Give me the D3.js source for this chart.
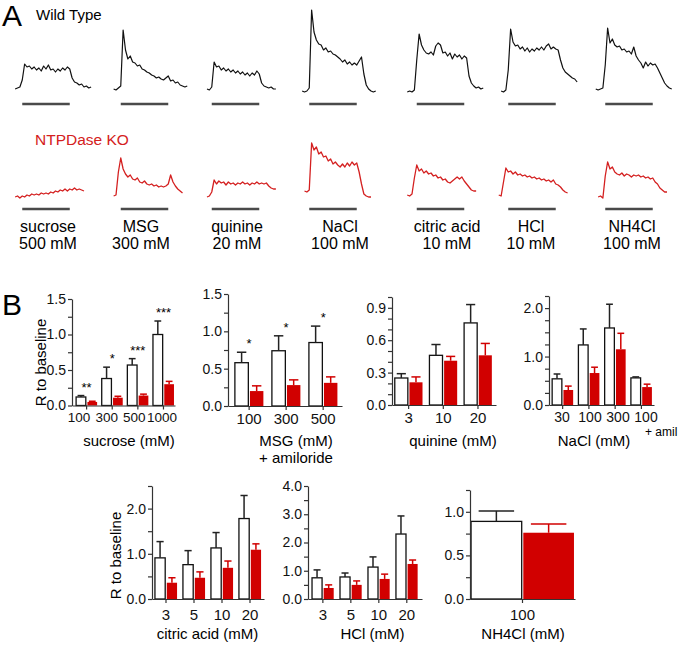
<!DOCTYPE html>
<html><head><meta charset="utf-8">
<script src="https://cdn.jsdelivr.net/npm/d3@7"></script>
<style>body{margin:0;background:#fff} text{font-family:"Liberation Sans",Arial,sans-serif}</style>
</head><body>
<script>
// ---------------- DATA: Panel A (traces, response above baseline; 1 sample per second; stimulus 0-20 s)
const stimuli = ["sucrose","MSG","quinine","NaCl","citric acid","HCl","NH4Cl"];
const stimConc = ["500 mM","300 mM","20 mM","100 mM","10 mM","10 mM","100 mM"];
const stimDuration = [0, 20];

const wtTraceStart = [-3,-3,-2,-3,-4,-3,-4];
const wtSucrose = [1,2,3,10,26,23,24,21,23,20,22,19,24,21,25,20,21,18,21,19,22,20,23,21,12,8,7,5,6,3,4,2,3];
const wtMSG = [1,0,2,4,60,40,31,34,28,27,24,25,21,20,18,17,15,14,12,13,11,10,12,14,9,10,7,8,5,4,3,4];
const wtQuinine = [1,0,3,28,23,24,20,22,19,21,18,20,17,19,16,18,15,17,14,17,15,19,16,7,4,3,2,3,1,1];
const wtNaCl = [-1,-2,-1,2,80,58,50,46,45,40,42,38,39,36,35,33,31,28,30,26,28,25,27,25,29,33,16,5,1,-1,-2,-1];
const wtCitric = [-2,-1,-2,0,30,56,45,40,37,36,38,35,44,47,45,37,38,34,37,31,36,33,35,31,34,32,14,7,4,2,3,1,2];
const wtHCl = [-1,-2,0,20,61,48,44,45,41,43,39,42,38,41,39,42,40,43,40,44,46,41,43,41,40,30,22,18,16,14,12,11,8];
const wtNH4Cl = [1,0,1,2,25,62,47,51,45,43,44,40,41,38,39,36,43,34,30,27,22,28,24,27,25,26,22,17,12,7,4,2,1];

const koTraceStart = [-3,-3,-2,-2,-4,-4,-3];
const koSucrose = [-1,0,-2,0,-1,1,0,2,1,2,1,3,2,3,2,4,3,5,4,6,5,7,5,7,6,8,6,7,6,5];
const koMSG = [0,1,24,38,27,22,19,21,17,16,18,14,13,15,12,11,12,10,11,9,10,9,10,12,21,14,10,7,5,3];
const koQuinine = [-1,0,4,16,12,15,13,14,11,14,12,13,11,13,12,14,12,13,11,13,12,14,12,13,12,13,10,8,7,7];
const koNaCl = [5,4,6,53,46,49,42,44,39,40,35,37,32,34,31,29,32,29,33,30,34,31,33,24,12,2,0,-1,-1];
const koCitric = [1,0,2,18,31,25,27,23,25,22,23,20,21,18,19,16,17,14,13,15,17,19,17,19,15,12,9,6,5,5];
const koHCl = [1,0,14,28,24,25,22,24,21,22,20,21,19,20,18,19,17,18,16,17,15,16,14,16,12,11,9,6,4,3];
const koNH4Cl = [-1,0,-2,20,34,27,29,24,22,21,23,20,22,21,19,21,20,21,19,20,18,19,17,18,14,12,8,6,4,4];

const wtTraces = [wtSucrose,wtMSG,wtQuinine,wtNaCl,wtCitric,wtHCl,wtNH4Cl];
const koTraces = [koSucrose,koMSG,koQuinine,koNaCl,koCitric,koHCl,koNH4Cl];

// ---------------- DATA: Panel B (R to baseline, mean and SEM)
const sucroseCats = ["100","300","500","1000"];
const sucroseWT = [0.12,0.38,0.57,1.00];
const sucroseWTErr = [0.02,0.16,0.09,0.19];
const sucroseKO = [0.05,0.11,0.14,0.30];
const sucroseKOErr = [0.01,0.02,0.02,0.04];
const sucroseSig = ["**","*","***","***"];

const msgCats = ["100","300","500"];
const msgWT = [0.58,0.74,0.85];
const msgWTErr = [0.14,0.20,0.22];
const msgKO = [0.20,0.28,0.31];
const msgKOErr = [0.07,0.07,0.08];
const msgSig = ["*","*","*"];

const quinineCats = ["3","10","20"];
const quinineWT = [0.25,0.46,0.76];
const quinineWTErr = [0.04,0.10,0.17];
const quinineKO = [0.21,0.41,0.46];
const quinineKOErr = [0.05,0.04,0.11];

const naclCats = ["30","100","300","100"];
const naclWT = [0.54,1.24,1.59,0.56];
const naclWTErr = [0.10,0.33,0.49,0.02];
const naclKO = [0.31,0.66,1.15,0.37];
const naclKOErr = [0.08,0.12,0.33,0.06];

const citricCats = ["3","5","10","20"];
const citricWT = [0.91,0.76,1.13,1.78];
const citricWTErr = [0.36,0.31,0.34,0.51];
const citricKO = [0.36,0.47,0.69,1.09];
const citricKOErr = [0.11,0.13,0.15,0.13];

const hclCats = ["3","5","10","20"];
const hclWT = [0.75,0.78,1.13,2.30];
const hclWTErr = [0.28,0.14,0.36,0.64];
const hclKO = [0.39,0.50,0.71,1.24];
const hclKOErr = [0.11,0.14,0.17,0.14];

const nh4Cats = ["100"];
const nh4WT = [0.89];
const nh4WTErr = [0.12];
const nh4KO = [0.76];
const nh4KOErr = [0.10];

// ---------------- STYLE / LAYOUT
const RED = "#d10000", TRACE_RED = "#d42020", AX = "#333";
const svg = d3.select("body").append("svg").attr("width",680).attr("height",647);

// Panel A
svg.append("text").attr("x",2).attr("y",25.5).attr("font-size",30).text("A");
svg.append("text").attr("x",36).attr("y",20).attr("font-size",15).text("Wild Type");
svg.append("text").attr("x",35).attr("y",145).attr("font-size",15.5).attr("fill",TRACE_RED).text("NTPDase KO");

const colX = [46,144.5,235.5,333,440.5,532,629];
const labelX = [48,141,237,340,447,531,632];
const wtY = d3.scaleLinear().domain([0,100]).range([90,-10]);
const koY = d3.scaleLinear().domain([0,100]).range([196,96]);

function drawTraces(traces, starts, ys, color, barY, sw){
  traces.forEach((tr,k)=>{
    const xs = d3.scaleLinear().domain(stimDuration).range([colX[k]-23.75, colX[k]+23.75]);
    const line = d3.line().x((d,i)=>xs(starts[k]+i)).y(d=>ys(d));
    svg.append("path").attr("d",line(tr)).attr("fill","none").attr("stroke",color)
      .attr("stroke-width",sw).attr("stroke-linejoin","round");
    svg.append("line").attr("x1",xs(stimDuration[0])).attr("x2",xs(stimDuration[1]))
      .attr("y1",barY).attr("y2",barY).attr("stroke","#4a4a4a").attr("stroke-width",2.6);
  });
}
drawTraces(wtTraces, wtTraceStart, wtY, "#111", 104, 1.2);
drawTraces(koTraces, koTraceStart, koY, TRACE_RED, 209, 1.3);

stimuli.forEach((s,k)=>{
  svg.append("text").attr("x",labelX[k]).attr("y",232).attr("font-size",16).attr("text-anchor","middle").text(s);
  svg.append("text").attr("x",labelX[k]).attr("y",248.5).attr("font-size",16).attr("text-anchor","middle").text(stimConc[k]);
});

// Panel B
svg.append("text").attr("x",2).attr("y",315).attr("font-size",30).text("B");

const charts = [
 {cats:sucroseCats, wt:sucroseWT, wtE:sucroseWTErr, ko:sucroseKO, koE:sucroseKOErr, sig:sucroseSig,
  x:[72,175], y:[405.5,299], dom:1.5, step:0.25, lab:0.5, pin:0.18, pout:0.1, align:0.8, pad:3,
  labelRange:[79,162], labelSize:13.5, title:["sucrose (mM)"], tx:129, ty:446},
 {cats:msgCats, wt:msgWT, wtE:msgWTErr, ko:msgKO, koE:msgKOErr, sig:msgSig,
  x:[228,342], y:[406,294], dom:1.5, step:0.25, lab:0.5, pin:0.23, pout:0.155, align:0.6, pad:3,
  title:["MSG (mM)","+ amiloride"], tx:296, ty:446},
 {cats:quinineCats, wt:quinineWT, wtE:quinineWTErr, ko:quinineKO, koE:quinineKOErr,
  x:[392,496], y:[405,297], dom:1.0, step:0.1, lab:0.3, pin:0.2, pout:0.1, align:0.4, pad:3,
  title:["quinine (mM)"], tx:453, ty:446},
 {cats:naclCats, wt:naclWT, wtE:naclWTErr, ko:naclKO, koE:naclKOErr,
  x:[549,654], y:[405,296], dom:2.25, step:0.25, lab:1.0, pin:0.2, pout:0.1, align:0.6, pad:3,
  labelRange:[562,646], labelSize:14, title:["NaCl (mM)"], tx:594, ty:446},
 {cats:citricCats, wt:citricWT, wtE:citricWTErr, ko:citricKO, koE:citricKOErr,
  x:[152,264], y:[599,486], dom:2.5, step:0.5, lab:1.0, pin:0.21, pout:0.105, align:0.5, pad:6,
  title:["citric acid (mM)"], tx:207.5, ty:639},
 {cats:hclCats, wt:hclWT, wtE:hclWTErr, ko:hclKO, koE:hclKOErr,
  x:[308,422], y:[599,486], dom:4.0, step:0.5, lab:1.0, pin:0.225, pout:0.15, align:0.48, pad:6,
  title:["HCl (mM)"], tx:372.5, ty:639},
 {cats:nh4Cats, wt:nh4WT, wtE:nh4WTErr, ko:nh4KO, koE:nh4KOErr,
  x:[470,575], y:[599,490], dom:1.25, step:0.25, lab:0.5, pin:0, pout:0.01, align:0.5, pad:6,
  title:["NH4Cl (mM)"], tx:523, ty:639}
];

const fmt = d3.format(".1f");
charts.forEach(c=>{
  const g = svg.append("g");
  const idx = c.cats.map((d,i)=>i);
  const xb = d3.scaleBand().domain(idx).range(c.x).paddingInner(c.pin).paddingOuter(c.pout).align(c.align);
  const ys = d3.scaleLinear().domain([0,c.dom]).range(c.y);
  const nt = Math.round(c.dom/c.step);
  const tv = d3.range(nt+1).map(i=>i*c.step);
  const isLab = v => Math.abs(v/c.lab - Math.round(v/c.lab)) < 1e-6;

  const bw = xb.bandwidth(), half = bw/2 - 0.8;
  idx.forEach(i=>{
    const x0 = xb(i), xc = x0 + bw/2;
    const xr = xc + 0.8;
    g.append("rect").attr("x",x0).attr("y",ys(c.wt[i])).attr("width",half)
      .attr("height",ys(0)-ys(c.wt[i])).attr("fill","#fff").attr("stroke","#111").attr("stroke-width",1.3);
    const wx = x0 + half/2, cw = half*0.7;
    g.append("line").attr("x1",wx).attr("x2",wx).attr("y1",ys(c.wt[i])).attr("y2",ys(c.wt[i]+c.wtE[i]))
      .attr("stroke","#222").attr("stroke-width",1.5);
    g.append("line").attr("x1",wx-cw/2).attr("x2",wx+cw/2).attr("y1",ys(c.wt[i]+c.wtE[i])).attr("y2",ys(c.wt[i]+c.wtE[i]))
      .attr("stroke","#222").attr("stroke-width",1.5);
    g.append("rect").attr("x",xr).attr("y",ys(c.ko[i])).attr("width",half)
      .attr("height",ys(0)-ys(c.ko[i])).attr("fill",RED);
    const kx = xr + half/2;
    g.append("line").attr("x1",kx).attr("x2",kx).attr("y1",ys(c.ko[i])).attr("y2",ys(c.ko[i]+c.koE[i]))
      .attr("stroke",RED).attr("stroke-width",1.5);
    g.append("line").attr("x1",kx-cw/2).attr("x2",kx+cw/2).attr("y1",ys(c.ko[i]+c.koE[i])).attr("y2",ys(c.ko[i]+c.koE[i]))
      .attr("stroke",RED).attr("stroke-width",1.5);
    if (c.sig) {
      g.append("text").attr("x",xc).attr("y",ys(c.wt[i]+c.wtE[i])-4).attr("text-anchor","middle")
        .attr("font-size",13).text(c.sig[i]);
    }
  });

  const ya = g.append("g").attr("transform",`translate(${c.x[0]},0)`)
    .call(d3.axisLeft(ys).tickValues(tv).tickSize(4).tickSizeOuter(0).tickPadding(2)
      .tickFormat(v=>isLab(v)?fmt(v):""));
  const xa = g.append("g").attr("transform",`translate(0,${c.y[0]})`)
    .call(d3.axisBottom(xb).tickSize(4).tickSizeOuter(0).tickPadding(c.pad).tickFormat(i=>c.cats[i]));
  [ya,xa].forEach(a=>{
    a.attr("font-family",null).attr("font-size",null);
    a.selectAll("path,line").attr("stroke",AX).attr("stroke-width",1.2);
    a.selectAll("text").attr("fill","#111");
  });
  ya.selectAll("text").attr("font-size",14);
  xa.selectAll("text").attr("font-size",c.labelSize || 15);
  if (c.labelRange) {
    const lp = d3.scalePoint().domain(idx).range(c.labelRange);
    xa.selectAll(".tick text").attr("dx",i=>lp(i)-(xb(i)+bw/2));
  }
  c.title.forEach((t,j)=>{
    g.append("text").attr("x",c.tx).attr("y",c.ty+j*17).attr("text-anchor","middle").attr("font-size",15).text(t);
  });
});

svg.append("text").attr("x",645).attr("y",436).attr("font-size",12).text("+ amil");

[[46,362.5],[121,555.5]].forEach(p=>{
  svg.append("text").attr("transform",`translate(${p[0]},${p[1]}) rotate(-90)`)
    .attr("text-anchor","middle").attr("font-size",15).text("R to baseline");
});
</script>
</body></html>
